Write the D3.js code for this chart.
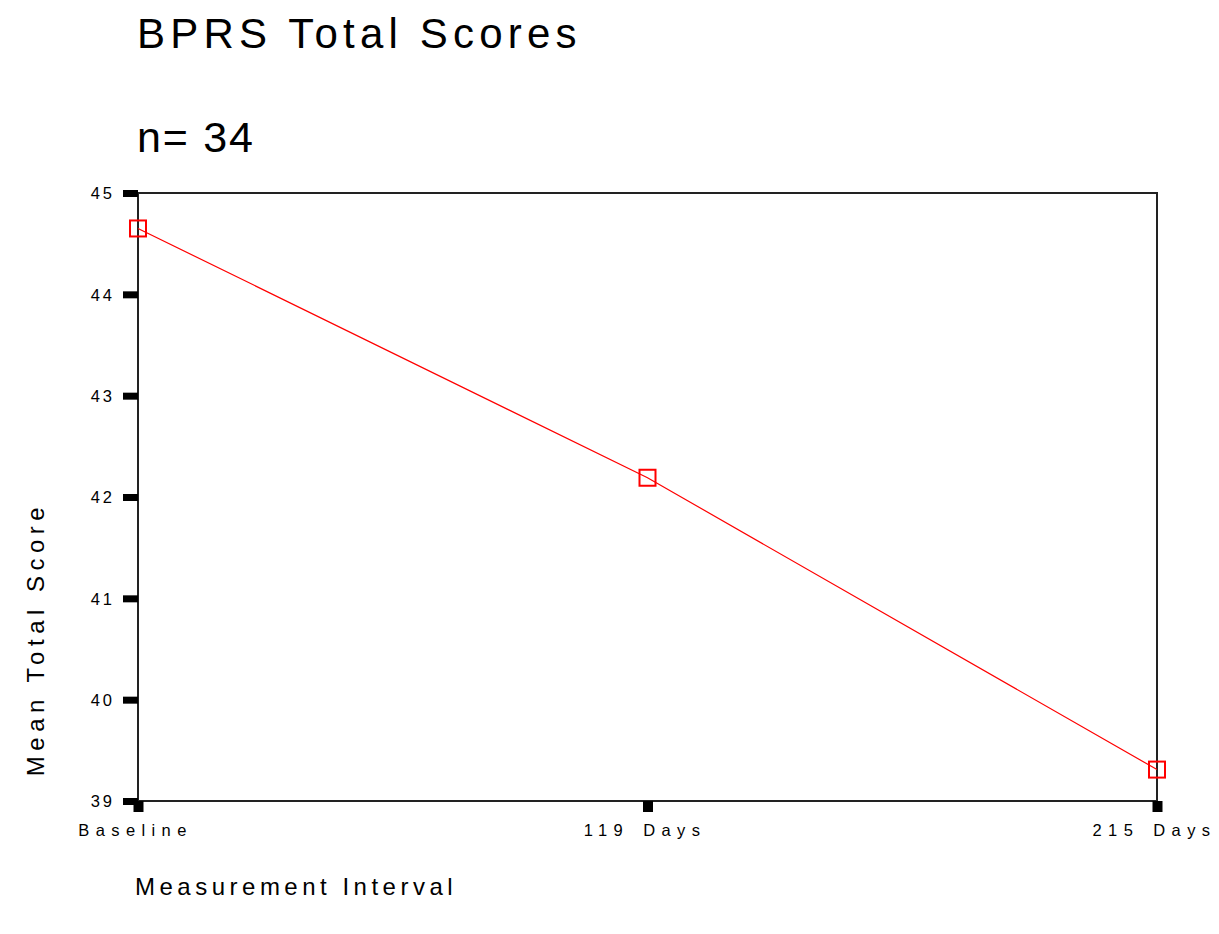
<!DOCTYPE html>
<html>
<head>
<meta charset="utf-8">
<script src="https://cdn.jsdelivr.net/npm/d3@7"></script>
<style>
  body { margin: 0; background: #fff; }
  text { font-family: "Liberation Sans", Arial, sans-serif; fill: #000; }
</style>
</head>
<body>
<div id="chart"></div>
<script>
// chart values
var intervals = ["Baseline", "119 Days", "215 Days"];
var meanScores = [44.65, 42.19, 39.31];
var yTicks = [39, 40, 41, 42, 43, 44, 45];

var svgWidth = 1219;
var svgHeight = 934;

// plot frame
var margin = { top: 193, right: 62, bottom: 133, left: 138 };
var width = svgWidth - margin.left - margin.right;
var height = svgHeight - margin.top - margin.bottom;

var svg = d3.select("#chart")
  .append("svg")
  .attr("width", svgWidth)
  .attr("height", svgHeight);

var chartGroup = svg.append("g")
  .attr("transform", `translate(${margin.left}, ${margin.top})`);

var xScale = d3.scalePoint()
  .domain(intervals)
  .range([0, width])
  .padding(0);

var yScale = d3.scaleLinear()
  .domain([39, 45])
  .range([height, 0]);

// frame
chartGroup.append("rect")
  .attr("x", 0)
  .attr("y", 0)
  .attr("width", width)
  .attr("height", height)
  .attr("fill", "none")
  .attr("stroke", "#222")
  .attr("stroke-width", 2);

// y axis with thick ticks
var leftAxis = d3.axisLeft(yScale)
  .tickValues(yTicks)
  .tickSize(15)
  .tickPadding(8)
  .tickFormat(d3.format("d"));

var yAxis = chartGroup.append("g").call(leftAxis);
yAxis.select(".domain").remove();
yAxis.selectAll(".tick line")
  .attr("stroke", "#000")
  .attr("stroke-width", 7);
yAxis.selectAll(".tick text")
  .attr("dy", "0.36em")
  .style("font-family", "'Liberation Sans', Arial, sans-serif")
  .style("font-size", "16.5px")
  .style("letter-spacing", "3px");

// x axis
var bottomAxis = d3.axisBottom(xScale)
  .tickSize(11)
  .tickPadding(12);

var xAxis = chartGroup.append("g")
  .attr("transform", `translate(0, ${height})`)
  .call(bottomAxis);
xAxis.select(".domain").remove();
xAxis.selectAll(".tick line")
  .attr("stroke", "#000")
  .attr("stroke-width", 10);
xAxis.selectAll(".tick text")
  .attr("dx", -3)
  .style("font-family", "'Liberation Sans', Arial, sans-serif")
  .style("font-size", "16.5px")
  .style("letter-spacing", "6.4px")
  .style("word-spacing", "3px");

// data line
var line = d3.line()
  .x((d, i) => xScale(intervals[i]))
  .y(d => yScale(d));

chartGroup.append("path")
  .datum(meanScores)
  .attr("d", line)
  .attr("fill", "none")
  .attr("stroke", "#ff0000")
  .attr("stroke-width", 1.2);

// square markers
chartGroup.selectAll(".marker")
  .data(meanScores)
  .enter()
  .append("rect")
  .attr("class", "marker")
  .attr("x", (d, i) => xScale(intervals[i]) - 8)
  .attr("y", d => yScale(d) - 8)
  .attr("width", 16)
  .attr("height", 16)
  .attr("fill", "none")
  .attr("stroke", "#ff0000")
  .attr("stroke-width", 2);

// titles
svg.append("text")
  .attr("x", 137)
  .attr("y", 48)
  .style("font-size", "42px")
  .style("letter-spacing", "5.2px")
  .text("BPRS Total Scores");

svg.append("text")
  .attr("x", 137)
  .attr("y", 152)
  .style("font-size", "43px")
  .style("letter-spacing", "1.8px")
  .text("n= 34");

// axis titles
svg.append("text")
  .attr("transform", "translate(44, 639) rotate(-90)")
  .attr("text-anchor", "middle")
  .style("font-size", "24px")
  .style("letter-spacing", "5.5px")
  .text("Mean Total Score");

svg.append("text")
  .attr("x", 135)
  .attr("y", 895)
  .style("font-size", "24px")
  .style("letter-spacing", "4.5px")
  .text("Measurement Interval");
</script>
</body>
</html>
